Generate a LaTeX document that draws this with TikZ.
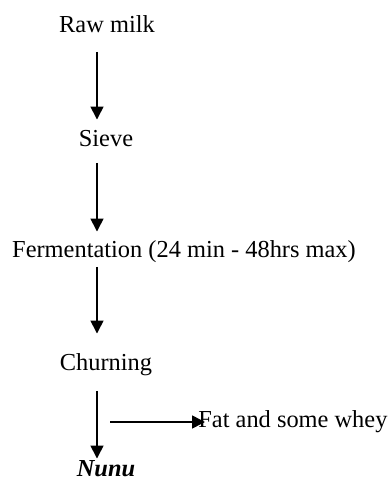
\documentclass[tikz,border=0pt]{standalone}
\usepackage{fontspec}
\setmainfont{Liberation Serif}
\usetikzlibrary{arrows.meta}

\begin{document}
\fontsize{12.2}{14}\selectfont
\begin{tikzpicture}[x=0.5pt, y=-0.5pt,
    stage/.style={inner sep=0pt, anchor=base, text height=0.7em, text depth=0.22em},
    flow/.style={-{Triangle[width=6.5pt,length=6.5pt]}, line width=0.8pt}]
    \useasboundingbox (0,0) rectangle (390,483);
    \coordinate (col) at (97,0);

    % Stages
    \node[stage] (raw) at (107,32) {Raw milk};
    \node[stage] (sieve) at (106,146) {Sieve};
    \node[stage] (ferm) at (184,257) {Fermentation (24 min - 48hrs max)};
    \node[stage] (churn) at (106,370) {Churning};
    \node[stage] (nunu) at (106,476) {\bfseries\itshape Nunu};
    \node[stage, anchor=base west] (fat) at (198,427) {Fat and some whey};

    % Main line
    \draw[flow, shorten <=7pt, shorten >=4.5pt] (raw.south -| col) -- (sieve.north -| col);
    \draw[flow, shorten <=5.5pt, shorten >=4pt] (sieve.south -| col) -- (ferm.north -| col);
    \draw[flow, shorten <=2pt, shorten >=9.5pt] (ferm.south -| col) -- (churn.north -| col);
    \draw[flow, shorten <=7.5pt] (churn.south -| col) -- (nunu.north -| col);

    % By-product
    \coordinate (split) at (110,422);
    \draw[flow, shorten >=-3.5pt] (split) -- (split -| fat.west);
\end{tikzpicture}
\end{document}
